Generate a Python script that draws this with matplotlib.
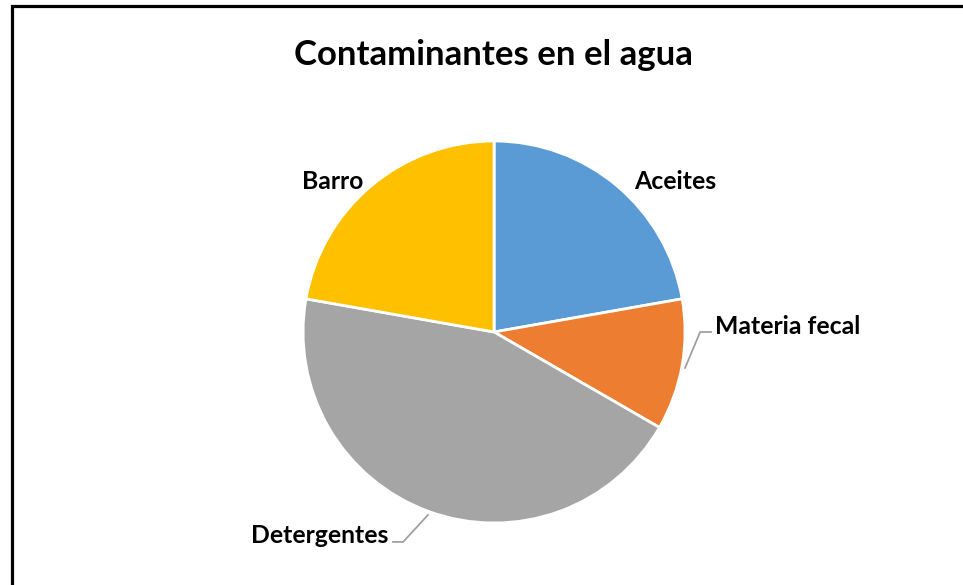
import numpy as np
import matplotlib
matplotlib.use("Agg")
import matplotlib.pyplot as plt
from matplotlib.patches import Rectangle

plt.rcParams['font.family'] = ['Lato', 'DejaVu Sans']

# datos del grafico
titulo = "Contaminantes en el agua"
categorias = ["Aceites", "Materia fecal", "Detergentes", "Barro"]
valores = [2, 1, 4, 2]
colores = ["#5B9BD5", "#ED7D31", "#A5A5A5", "#FFC000"]

# posiciones de etiquetas (unidades del radio) y alineacion
pos_etiquetas = [(0.948, 0.79), (1.157, 0.031), (-0.555, -1.063), (-0.843, 0.79)]
alin = ["center", "left", "right", "center"]
# lineas guia (solo para las etiquetas alejadas)
guias = {1: [(1.0, -0.188), (1.079, 0.0), (1.136, 0.0)],
         2: [(-0.346, -0.958), (-0.476, -1.099), (-0.529, -1.099)]}

fig = plt.figure(figsize=(9.63, 5.85), dpi=100)
fig.patch.set_facecolor("white")

# marco negro
fig.add_artist(Rectangle((11.5/963, -0.1), 1.2, 1 - 6.5/585 + 0.1, transform=fig.transFigure,
                         fill=False, edgecolor="black", linewidth=2.3))

fig.text(493/963, 1 - 55/585, titulo, ha="center", va="center", fontsize=25, fontweight="bold", color="black")

ax = fig.add_axes([0.3147, 0.106, 0.3967, 0.653])
ax.pie(valores, colors=colores, startangle=90, counterclock=False, radius=1,
       wedgeprops=dict(edgecolor="white", linewidth=2))
ax.set_xlim(-1, 1)
ax.set_ylim(-1, 1)
ax.set_aspect("equal")
ax.axis("off")

for i, nombre in enumerate(categorias):
    x, y = pos_etiquetas[i]
    ax.text(x, y, nombre, ha=alin[i], va="center", fontsize=17.8, fontweight="bold", color="black", clip_on=False)
for i, pts in guias.items():
    xs, ys = zip(*pts)
    ax.plot(xs, ys, color="#A0A0A0", linewidth=1.3, clip_on=False)

fig.savefig("out.png", dpi=100, facecolor="white")
